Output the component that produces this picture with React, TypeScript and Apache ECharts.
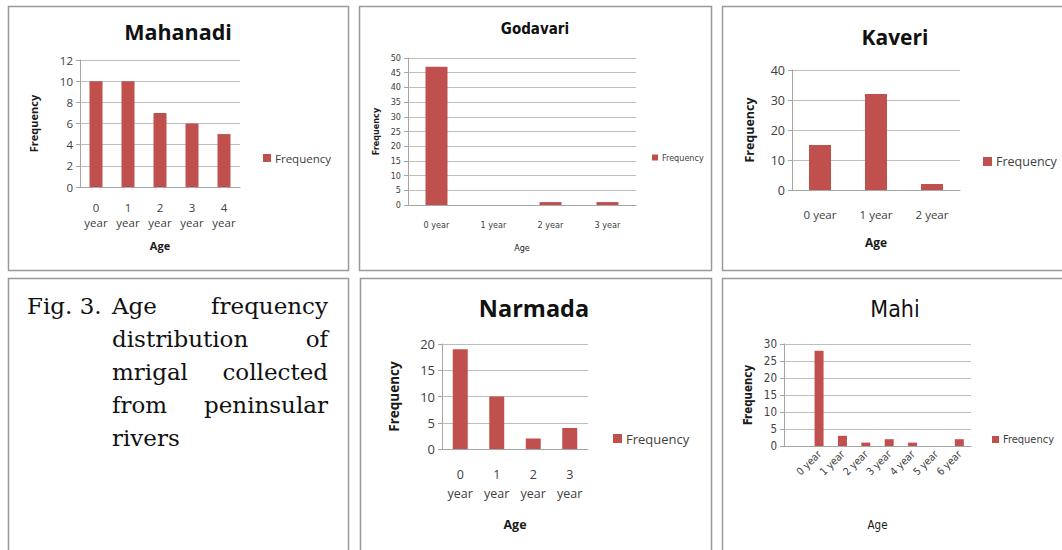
import React, { useEffect, useRef } from "react";
import * as echarts from "echarts";

// ---- data ----
const mahanadiAges = ["0 year", "1 year", "2 year", "3 year", "4 year"];
const mahanadiFreq = [10, 10, 7, 6, 5];
const godavariAges = ["0 year", "1 year", "2 year", "3 year"];
const godavariFreq = [47, 0, 1, 1];
const kaveriAges = ["0 year", "1 year", "2 year"];
const kaveriFreq = [15, 32, 2];
const narmadaAges = ["0 year", "1 year", "2 year", "3 year"];
const narmadaFreq = [19, 10, 2, 4];
const mahiAges = ["", "0 year", "1 year", "2 year", "3 year", "4 year", "5 year", "6 year"];
const mahiFreq = [null, 28, 3, 1, 2, 1, 0, 2];

const seriesName = "Frequency";
const xName = "Age";
const captionLead = "Fig. 3.";
const captionLines: [string, string][] = [
  ["Age", "frequency"],
  ["distribution", "of"],
  ["mrigal", "collected"],
  ["from", "peninsular"],
  ["rivers", ""],
];

const W = 1062;
const H = 550;
const BAR = "#c0504d";
const WIDE = "'Open Sans', 'DejaVu Sans', sans-serif";
const NARROW = "'Liberation Sans Narrow', 'DejaVu Sans Condensed', 'Roboto Condensed', sans-serif";
const SERIF = "'DejaVu Serif', 'Liberation Serif', serif";

type Panel = {
  title: string;
  titleX: number;
  titleY: number;
  titleSize: number;
  titleBold: boolean;
  titleFont: string;
  cats: string[];
  vals: (number | null)[];
  max: number;
  interval: number;
  left: number;
  right: number;
  top: number;
  bottom: number;
  barWidth: number;
  font: string;
  tickSize: number;
  catSize: number;
  wrap: boolean;
  rotate: number;
  catLineHeight: number;
  catMargin: number;
  yNameGap: number;
  yNameSize: number;
  xNameGap: number;
  xNameSize: number;
  xNameBold: boolean;
  legendX: number;
  legendY: number;
  legendSize: number;
  legendIcon: number;
};

const panels: Panel[] = [
  {
    title: "Mahanadi", titleX: 178, titleY: 31, titleSize: 21.5, titleBold: true, titleFont: WIDE,
    cats: mahanadiAges, vals: mahanadiFreq, max: 12, interval: 2,
    left: 80, right: 240, top: 60, bottom: 187, barWidth: 13,
    font: WIDE, tickSize: 11.5, catSize: 11.5, wrap: true, rotate: 0, catLineHeight: 15, catMargin: 13,
    yNameGap: 41, yNameSize: 11, xNameGap: 53, xNameSize: 11, xNameBold: true,
    legendX: 263, legendY: 152, legendSize: 11.5, legendIcon: 8,
  },
  {
    title: "Godavari", titleX: 535, titleY: 29, titleSize: 15, titleBold: true, titleFont: NARROW,
    cats: godavariAges, vals: godavariFreq, max: 50, interval: 5,
    left: 408, right: 636, top: 58, bottom: 205, barWidth: 22,
    font: NARROW, tickSize: 9, catSize: 9, wrap: false, rotate: 0, catLineHeight: 12, catMargin: 14,
    yNameGap: 28, yNameSize: 9, xNameGap: 38, xNameSize: 9, xNameBold: false,
    legendX: 652, legendY: 153, legendSize: 9, legendIcon: 6,
  },
  {
    title: "Kaveri", titleX: 895, titleY: 37, titleSize: 21, titleBold: true, titleFont: WIDE,
    cats: kaveriAges, vals: kaveriFreq, max: 40, interval: 10,
    left: 792, right: 960, top: 70, bottom: 190, barWidth: 22,
    font: WIDE, tickSize: 12.5, catSize: 11.5, wrap: false, rotate: 0, catLineHeight: 15, catMargin: 17,
    yNameGap: 36, yNameSize: 12.5, xNameGap: 46, xNameSize: 12, xNameBold: true,
    legendX: 983, legendY: 155, legendSize: 12.5, legendIcon: 9,
  },
  {
    title: "Narmada", titleX: 534, titleY: 308, titleSize: 23.5, titleBold: true, titleFont: WIDE,
    cats: narmadaAges, vals: narmadaFreq, max: 20, interval: 5,
    left: 442, right: 588, top: 344, bottom: 449, barWidth: 15,
    font: WIDE, tickSize: 13, catSize: 12.5, wrap: true, rotate: 0, catLineHeight: 19, catMargin: 16,
    yNameGap: 41, yNameSize: 13.5, xNameGap: 69, xNameSize: 12.5, xNameBold: true,
    legendX: 613, legendY: 432, legendSize: 13, legendIcon: 9,
  },
  {
    title: "Mahi", titleX: 895, titleY: 309, titleSize: 23, titleBold: false, titleFont: NARROW,
    cats: mahiAges, vals: mahiFreq, max: 30, interval: 5,
    left: 784, right: 971, top: 344, bottom: 446, barWidth: 9,
    font: NARROW, tickSize: 11.5, catSize: 10.5, wrap: false, rotate: 45, catLineHeight: 12, catMargin: 6,
    yNameGap: 30, yNameSize: 11.5, xNameGap: 73, xNameSize: 11.5, xNameBold: false,
    legendX: 992, legendY: 434, legendSize: 11, legendIcon: 7,
  },
];

const boxes = [
  [8, 6, 348, 270],
  [359, 6, 711, 270],
  [722, 6, 1070, 270],
  [8, 278, 348, 560],
  [360, 278, 711, 560],
  [722, 278, 1070, 560],
];

export default function App() {
  const ref = useRef<HTMLDivElement>(null);
  useEffect(() => {
    document.body.style.margin = "0";
    if (!ref.current) return;
    const chart = echarts.init(ref.current, undefined, { renderer: "svg" });

    const grid: any[] = [];
    const xAxis: any[] = [];
    const yAxis: any[] = [];
    const series: any[] = [];
    const legend: any[] = [];
    const graphic: any[] = [];

    boxes.forEach(([x1, y1, x2, y2]) => {
      graphic.push({
        type: "rect",
        shape: { x: x1 + 0.5, y: y1 + 0.5, width: x2 - x1, height: y2 - y1 },
        style: { fill: "none", stroke: "#9a9a9a", lineWidth: 1.5 },
        silent: true,
      });
    });

    panels.forEach((p, i) => {
      grid.push({ left: p.left, top: p.top, width: p.right - p.left, height: p.bottom - p.top, containLabel: false });
      xAxis.push({
        type: "category",
        gridIndex: i,
        data: p.cats,
        name: xName,
        nameLocation: "middle",
        nameGap: p.xNameGap,
        nameTextStyle: { fontFamily: p.font, fontSize: p.xNameSize, fontWeight: p.xNameBold ? "bold" : "normal", color: "#1a1a1a" },
        axisLine: { lineStyle: { color: "#a6a6a6", width: 1 } },
        axisTick: { show: false },
        axisLabel: {
          interval: 0,
          rotate: p.rotate,
          margin: p.catMargin,
          fontFamily: p.font,
          fontSize: p.catSize,
          lineHeight: p.catLineHeight,
          color: "#404040",
          formatter: (v: string) => (p.wrap ? v.replace(" ", "\n") : v),
        },
      });
      yAxis.push({
        type: "value",
        gridIndex: i,
        min: 0,
        max: p.max,
        interval: p.interval,
        name: seriesName,
        nameLocation: "middle",
        nameRotate: 90,
        nameGap: p.yNameGap,
        nameTextStyle: { fontFamily: p.font, fontSize: p.yNameSize, fontWeight: "bold", color: "#1a1a1a" },
        axisLine: { show: true, lineStyle: { color: "#a6a6a6", width: 1 } },
        axisTick: { show: true, length: 4, lineStyle: { color: "#a6a6a6" } },
        splitLine: { show: true, lineStyle: { color: "#bdbdbd", width: 1 } },
        axisLabel: { fontFamily: p.font, fontSize: p.tickSize, color: "#404040", margin: 7 },
      });
      series.push({
        type: "bar",
        name: seriesName,
        xAxisIndex: i,
        yAxisIndex: i,
        data: p.vals,
        barWidth: p.barWidth,
        itemStyle: { color: BAR },
      });
      legend.push({
        left: p.legendX,
        top: p.legendY,
        padding: 0,
        data: [{ name: seriesName, icon: "rect" }],
        itemWidth: p.legendIcon,
        itemHeight: p.legendIcon,
        itemGap: 4,
        selectedMode: false,
        textStyle: { fontFamily: p.font, fontSize: p.legendSize, color: "#404040", padding: [0, 0, 0, -1] },
      });
      graphic.push({
        type: "text",
        x: p.titleX,
        y: p.titleY,
        style: {
          text: p.title,
          fontFamily: p.titleFont,
          fontSize: p.titleSize,
          fontWeight: p.titleBold ? "bold" : "normal",
          fill: "#111",
          align: "center",
          verticalAlign: "middle",
        },
      });
    });

    // caption
    const capLeft = 112;
    const capRight = 328;
    const capTop = 306;
    const capStep = 33;
    const capSize = 23;
    graphic.push({
      type: "text",
      x: 27,
      y: capTop,
      style: { text: captionLead, fontFamily: SERIF, fontSize: capSize, fill: "#111", align: "left", verticalAlign: "middle" },
    });
    captionLines.forEach(([a, b], k) => {
      graphic.push({
        type: "text",
        x: capLeft,
        y: capTop + k * capStep,
        style: { text: a, fontFamily: SERIF, fontSize: capSize, fill: "#111", align: "left", verticalAlign: "middle" },
      });
      if (b) {
        graphic.push({
          type: "text",
          x: capRight,
          y: capTop + k * capStep,
          style: { text: b, fontFamily: SERIF, fontSize: capSize, fill: "#111", align: "right", verticalAlign: "middle" },
        });
      }
    });

    chart.setOption({
      animation: false,
      backgroundColor: "#ffffff",
      grid,
      xAxis,
      yAxis,
      series,
      legend,
      graphic,
    });
    return () => chart.dispose();
  }, []);
  return <div ref={ref} style={{ width: W, height: H }} />;
}
